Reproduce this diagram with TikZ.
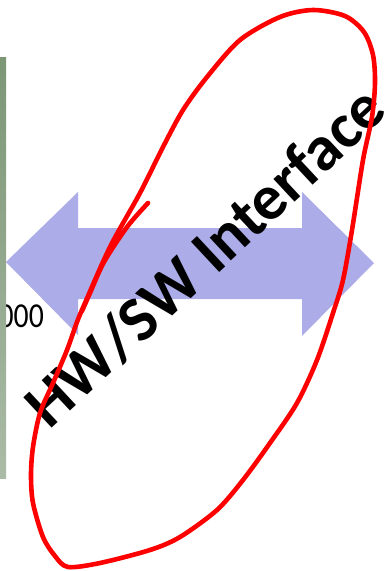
\documentclass[tikz,border=0pt]{standalone}
\usepackage{fontspec}
\setmainfont{Carlito}
\definecolor{arrowfill}{RGB}{172,172,232}
\definecolor{bartop}{RGB}{124,150,118}
\definecolor{barbottom}{RGB}{170,187,166}
\definecolor{penred}{RGB}{255,0,0}
\begin{document}
\begin{tikzpicture}[x=1pt,y=1pt,
  pen/.style={draw=penred,line width=4.6pt,line cap=round,line join=round}]
\useasboundingbox (0,0) rectangle (386,-571);
% double-headed block arrow
\fill[arrowfill] (6,-262) -- (78,-192) -- (78,-228) -- (302,-228) -- (302,-192)
  -- (374,-263) -- (302,-336) -- (302,-299) -- (78,-299) -- (78,-335) -- cycle;
% number partly hidden by the side bar
\node[anchor=base east, inner sep=0, xscale=0.85,
  font=\fontsize{35}{40}\selectfont] (year) at (44,-327) {000};
% side bar
\shade[top color=bartop,bottom color=barbottom] (0,-57) rectangle (6,-478);
% rotated label
\node[rotate=43, inner sep=0, font=\bfseries\fontsize{64}{70}\selectfont]
  (iface) at (205,-257) {HW/SW Interface};
% hand-drawn loop
\draw[pen] plot[smooth cycle] coordinates {
  (85,-303) (110,-247) (140,-193) (163,-147) (183,-110) (207,-77) (240,-40)
  (280,-17) (313,-10) (345,-16) (364,-32) (373,-55) (375,-83) (372,-117)
  (363,-160) (352,-230) (343,-280) (333,-313) (317,-360) (297,-403)
  (270,-443) (243,-480) (217,-510) (180,-537) (150,-550) (100,-563)
  (68,-567) (55,-556) (43,-537) (33,-503) (31,-475) (33,-447) (40,-413)
  (53,-383) (67,-350) (77,-322)};
\draw[pen] plot[smooth] coordinates {
  (148,-203) (127,-227) (104,-262) (90,-293) (82,-311)};
\end{tikzpicture}
\end{document}
